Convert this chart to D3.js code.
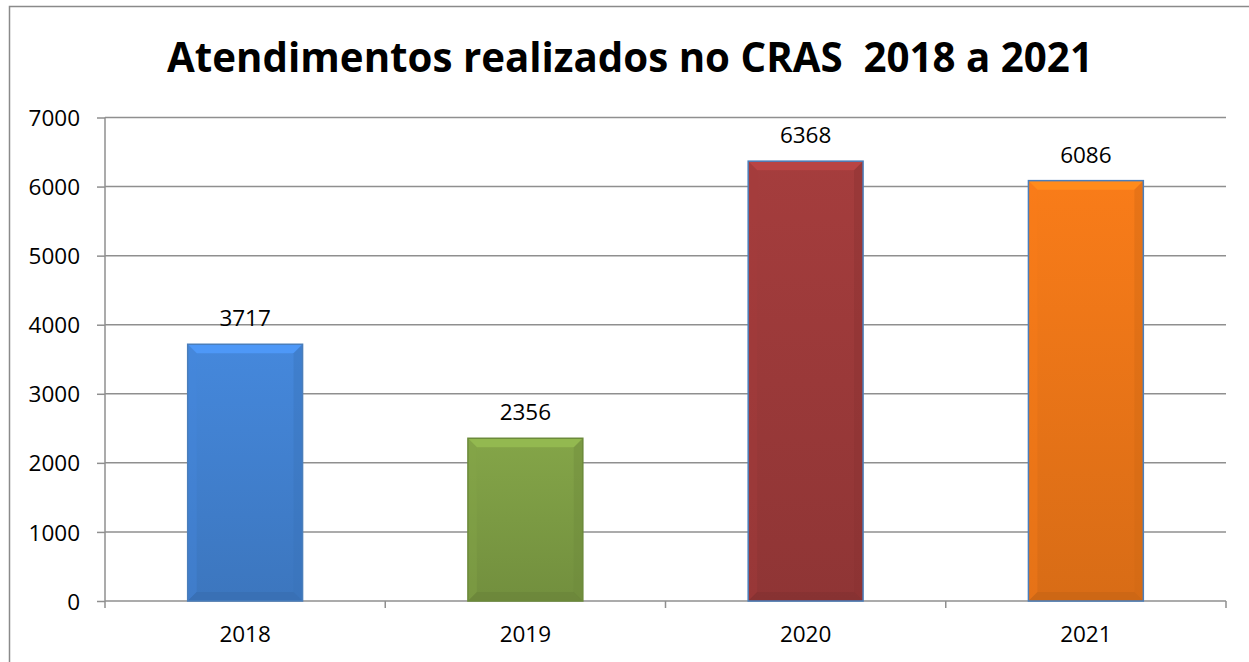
<!DOCTYPE html>
<html>
<head>
<meta charset="utf-8">
<script src="https://cdn.jsdelivr.net/npm/d3@7"></script>
<style>
  body { margin: 0; background: #fff; }
  svg { display: block; font-family: "Open Sans", Lato, sans-serif; }
</style>
</head>
<body>
<script>
// chart values
const years = ["2018", "2019", "2020", "2021"];
const atendimentos = [3717, 2356, 6368, 6086];
const yTicks = [0, 1000, 2000, 3000, 4000, 5000, 6000, 7000];
const barColors = ["#4383d4", "#7f9f45", "#9f3b3b", "#f07818"];
const barEdges = ["#4a7ebb", "#6b8a3a", "#4a7ebb", "#4a7ebb"];
const titleText = "Atendimentos realizados no CRAS  2018 a 2021";

const width = 1249, height = 662;
const margin = {left: 105, right: 23, top: 117.5, bottom: 61};
const labelSize = 22.5;

const svg = d3.select("body").append("svg")
    .attr("width", width)
    .attr("height", height);

// outer frame (right/bottom edges fall off the picture)
svg.append("rect")
    .attr("x", 9.5).attr("y", 6.5)
    .attr("width", width + 20).attr("height", height + 20)
    .attr("fill", "none")
    .attr("stroke", "#8a8a8a")
    .attr("stroke-width", 1.5);

const x = d3.scaleBand()
    .domain(years)
    .range([margin.left, width - margin.right])
    .paddingInner(0.59)
    .paddingOuter(0.295);

const y = d3.scaleLinear()
    .domain([0, 7000])
    .range([height - margin.bottom, margin.top]);

// fit a text node to a given pixel width
function fitWidth(sel, target) {
    const fs = parseFloat(sel.attr("font-size"));
    const w = sel.node().getComputedTextLength();
    sel.attr("font-size", fs * target / w);
}

// title
svg.append("text")
    .attr("x", 630)
    .attr("y", 72)
    .attr("text-anchor", "middle")
    .attr("font-weight", "bold")
    .attr("font-size", 40)
    .attr("fill", "#000")
    .style("white-space", "pre")
    .text(titleText)
    .call(fitWidth, 926);

// gridlines
svg.append("g")
    .selectAll("line")
    .data(yTicks.filter(d => d > 0))
    .join("line")
    .attr("x1", margin.left)
    .attr("x2", width - margin.right)
    .attr("y1", d => y(d))
    .attr("y2", d => y(d))
    .attr("stroke", "#8f8f8f")
    .attr("stroke-width", 1.5);

// y axis
const yAxis = svg.append("g")
    .attr("transform", `translate(${margin.left},0)`)
    .call(d3.axisLeft(y).tickValues(yTicks).tickFormat(d3.format("d"))
        .tickSize(8).tickPadding(17).tickSizeOuter(0));
yAxis.select(".domain").remove();
yAxis.append("line")
    .attr("x1", 0).attr("x2", 0)
    .attr("y1", y(7000)).attr("y2", y(0) + 7)
    .attr("stroke", "#8f8f8f").attr("stroke-width", 1.5);
yAxis.selectAll(".tick line").attr("stroke", "#8f8f8f").attr("stroke-width", 1.5);
yAxis.selectAll(".tick text")
    .attr("font-family", "'Open Sans', Lato, sans-serif")
    .attr("font-size", labelSize)
    .attr("dy", "0.36em")
    .attr("fill", "#000");

// x axis
const xAxisG = svg.append("g")
    .attr("transform", `translate(0,${y(0)})`);
xAxisG.append("line")
    .attr("x1", margin.left).attr("x2", width - margin.right)
    .attr("stroke", "#8f8f8f").attr("stroke-width", 1.5);
const bounds = years.map(d => x(d) - x.step() * x.paddingInner() / 2);
bounds.push(width - margin.right);
bounds.shift();
xAxisG.selectAll(".sep")
    .data(bounds)
    .join("line")
    .attr("x1", d => d).attr("x2", d => d)
    .attr("y1", 0).attr("y2", 7)
    .attr("stroke", "#8f8f8f").attr("stroke-width", 1.5);
xAxisG.selectAll(".xl")
    .data(years)
    .join("text")
    .attr("x", d => x(d) + x.bandwidth() / 2)
    .attr("y", 41)
    .attr("text-anchor", "middle")
    .attr("font-size", labelSize)
    .attr("fill", "#000")
    .text(d => d);

// gradients for the bevelled bars
const defs = svg.append("defs");
barColors.forEach((c, i) => {
    const g = defs.append("linearGradient")
        .attr("id", "grad" + i)
        .attr("x1", 0).attr("x2", 0).attr("y1", 0).attr("y2", 1);
    g.append("stop").attr("offset", "0%").attr("stop-color", d3.color(c).brighter(0.1));
    g.append("stop").attr("offset", "100%").attr("stop-color", d3.color(c).darker(0.3));
});

const bev = 9;
const bars = svg.append("g")
    .selectAll("g")
    .data(years)
    .join("g");

bars.each(function(d, i) {
    const g = d3.select(this);
    const x0 = x(d), x1 = x(d) + x.bandwidth();
    const y0 = y(atendimentos[i]), y1 = y(0);
    const c = d3.color(barColors[i]);
    g.append("rect")
        .attr("x", x0).attr("y", y0)
        .attr("width", x1 - x0).attr("height", y1 - y0)
        .attr("fill", `url(#grad${i})`);
    // top bevel
    g.append("polygon")
        .attr("points", [[x0, y0], [x1, y0], [x1 - bev, y0 + bev], [x0 + bev, y0 + bev]].join(" "))
        .attr("fill", c.brighter(0.45)).attr("opacity", 0.9);
    // left bevel
    g.append("polygon")
        .attr("points", [[x0, y0], [x0 + bev, y0 + bev], [x0 + bev, y1 - bev], [x0, y1]].join(" "))
        .attr("fill", c.brighter(0.1)).attr("opacity", 0.4);
    // right bevel
    g.append("polygon")
        .attr("points", [[x1, y0], [x1 - bev, y0 + bev], [x1 - bev, y1 - bev], [x1, y1]].join(" "))
        .attr("fill", c.darker(0.4)).attr("opacity", 0.4);
    // bottom bevel
    g.append("polygon")
        .attr("points", [[x0, y1], [x0 + bev, y1 - bev], [x1 - bev, y1 - bev], [x1, y1]].join(" "))
        .attr("fill", c.darker(0.6)).attr("opacity", 0.5);
    g.append("rect")
        .attr("x", x0).attr("y", y0)
        .attr("width", x1 - x0).attr("height", y1 - y0)
        .attr("fill", "none")
        .attr("stroke", barEdges[i])
        .attr("stroke-width", 1.5);
    // value label
    g.append("text")
        .attr("x", (x0 + x1) / 2)
        .attr("y", y0 - 18)
        .attr("text-anchor", "middle")
        .attr("font-size", labelSize)
        .attr("fill", "#000")
        .text(atendimentos[i]);
});
</script>
</body>
</html>
